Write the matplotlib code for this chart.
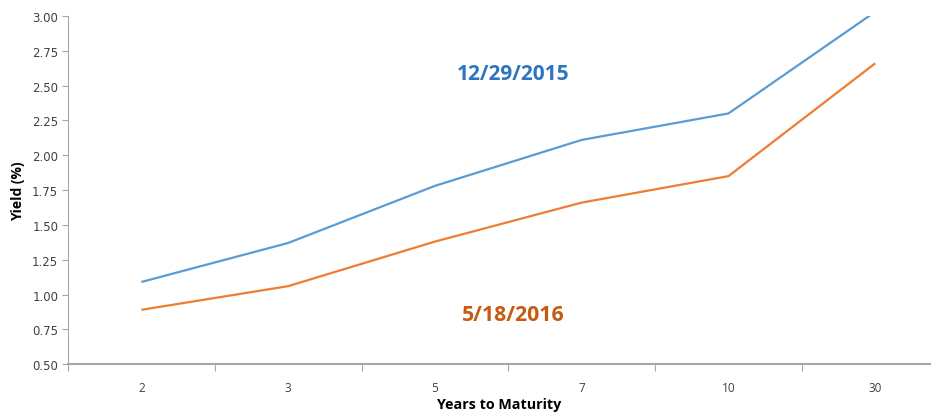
import matplotlib
matplotlib.use("Agg")
import matplotlib.pyplot as plt
from matplotlib.ticker import FixedLocator, NullFormatter

maturities = ["2", "3", "5", "7", "10", "30"]
yield_2015 = [1.09, 1.37, 1.78, 2.11, 2.30, 3.03]
yield_2016 = [0.89, 1.06, 1.38, 1.66, 1.85, 2.66]
yticks = [0.50, 0.75, 1.00, 1.25, 1.50, 1.75, 2.00, 2.25, 2.50, 2.75, 3.00]

fig = plt.figure(figsize=(9.31, 4.14), dpi=100)
ax = fig.add_axes([0.073, 0.118, 0.927, 0.841])
x = list(range(len(maturities)))
ax.plot(x, yield_2015, color="#5b9bd5", lw=1.6, solid_capstyle="butt")
ax.plot(x, yield_2016, color="#ed7d31", lw=1.6, solid_capstyle="butt")

ax.set_xlim(-0.5, 5.38)
ax.set_ylim(0.5, 3.0)
ax.set_yticks(yticks)
ax.set_yticklabels([f"{v:.2f}" for v in yticks], fontsize=8.5, color="#404040", family="DejaVu Sans")
ax.set_xticks(x)
ax.set_xticklabels(maturities, fontsize=8.5, color="#404040", family="Open Sans")
ax.tick_params(axis="x", which="major", length=0, pad=12)
ax.xaxis.set_minor_locator(FixedLocator([i + 0.5 for i in range(-1, 6)]))
ax.xaxis.set_minor_formatter(NullFormatter())
ax.tick_params(axis="x", which="minor", length=5, color="#a6a6a6", width=0.8)
ax.tick_params(axis="y", length=4, color="#a6a6a6", width=0.8, pad=3)

for s in ["top", "right"]:
    ax.spines[s].set_visible(False)
ax.spines["left"].set_color("#a6a6a6")
ax.spines["left"].set_linewidth(0.8)
ax.spines["bottom"].set_color("#a6a6a6")
ax.spines["bottom"].set_linewidth(1.5)

ax.set_ylabel("Yield (%)", fontsize=10, fontweight="bold", labelpad=5, family="Open Sans")
ax.set_xlabel("Years to Maturity", fontsize=10.3, fontweight="bold", labelpad=2, family="Open Sans")

ax.text(2.535, 2.59, "12/29/2015", color="#2e75c0", fontsize=15, fontweight="bold",
        ha="center", va="center", family="Open Sans")
ax.text(2.535, 0.86, "5/18/2016", color="#c55a11", fontsize=15.3, fontweight="bold",
        ha="center", va="center", family="Open Sans")

fig.savefig("out.png", dpi=100)
